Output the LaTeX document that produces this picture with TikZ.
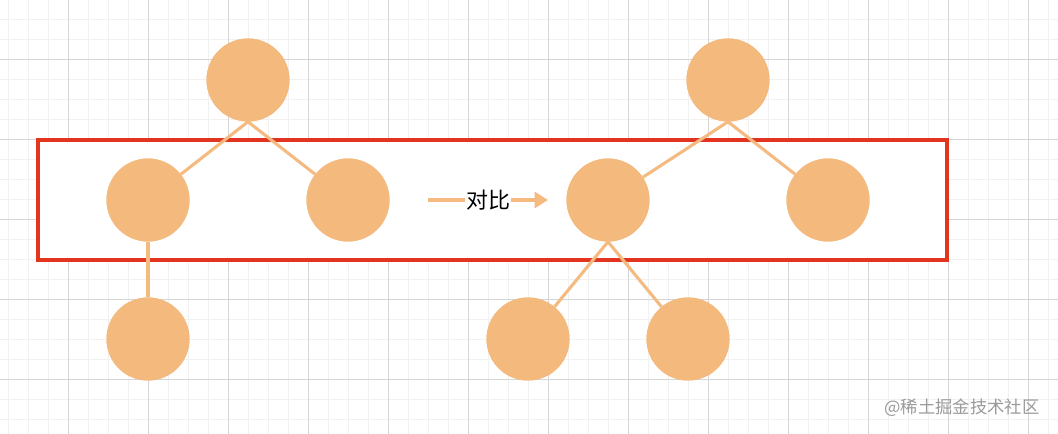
\documentclass[tikz,border=0pt]{standalone}
\usepackage{fontspec}
\newfontfamily\cjk{Noto Sans CJK SC}
\usetikzlibrary{arrows.meta}
\definecolor{nodeor}{HTML}{F4B97C}
\definecolor{lineor}{HTML}{F4BA80}
\definecolor{boxred}{HTML}{E2341F}
\definecolor{gridminor}{HTML}{F1F1F1}
\definecolor{gridmajor}{HTML}{D6D6D6}
\definecolor{wm}{HTML}{9A9A9A}
\tikzset{
  treenode/.style={circle, fill=nodeor, draw=none, minimum size=62.25pt, inner sep=0pt},
  edge/.style={draw=lineor, line width=2.3pt},
}
\begin{document}
\begin{tikzpicture}[x=0.75pt,y=-0.75pt]
\useasboundingbox (0,0) rectangle (1058,434);
\fill[white] (0,0) rectangle (1058,434);
% grid
\foreach \x in {8,28,...,1058} \draw[gridminor, line width=0.75pt] (\x,0) -- (\x,434);
\foreach \y in {0,20,...,434} \draw[gridminor, line width=0.75pt] (0,\y) -- (1058,\y);
\foreach \x in {68,148,...,1058} \draw[gridmajor, line width=0.75pt] (\x,0) -- (\x,434);
\foreach \y in {60,140,...,434} \draw[gridmajor, line width=0.75pt] (0,\y) -- (1058,\y);
% red box
\node[draw=boxred, fill=white, line width=2.6pt, minimum width=909*0.75pt, minimum height=120*0.75pt, inner sep=0pt] (box) at (492.5,200) {};
% nodes left tree
\node[treenode] (la) at (248,80) {};
\node[treenode] (lb) at (148,200) {};
\node[treenode] (lc) at (348,200) {};
\node[treenode] (ld) at (148,339) {};
% right tree
\node[treenode] (ra) at (728,80) {};
\node[treenode] (rb) at (608,200) {};
\node[treenode] (rc) at (828,200) {};
\node[treenode] (rd) at (528,339) {};
\node[treenode] (re) at (688,339) {};
% edges
\draw[edge] (la.south) -- (lb);
\draw[edge] (la.south) -- (lc);
\draw[edge] (lb.south) -- (ld);
\draw[edge] (ra.south) -- (rb);
\draw[edge] (ra.south) -- (rc);
\draw[edge] (rb.south) -- (rd);
\draw[edge] (rb.south) -- (re);
% redraw nodes on top
\foreach \n in {la,lb,lc,ld,ra,rb,rc,rd,re} \fill[nodeor] (\n) circle[radius=41.5];
% arrow
\coordinate (as) at (428,200);
\coordinate (ae) at (548,200);
\draw[edge, -{Triangle[length=10pt,width=12pt]}] (as) -- node[fill=white, inner sep=1pt, text=black, font=\cjk\fontsize{16.5pt}{18pt}\selectfont] (lbl) {对比} (ae);
% watermark
\node[text=wm, font=\cjk\fontsize{13pt}{15pt}\selectfont, inner sep=0pt] (wmk) at (962,408) {@稀土掘金技术社区};
\end{tikzpicture}
\end{document}
